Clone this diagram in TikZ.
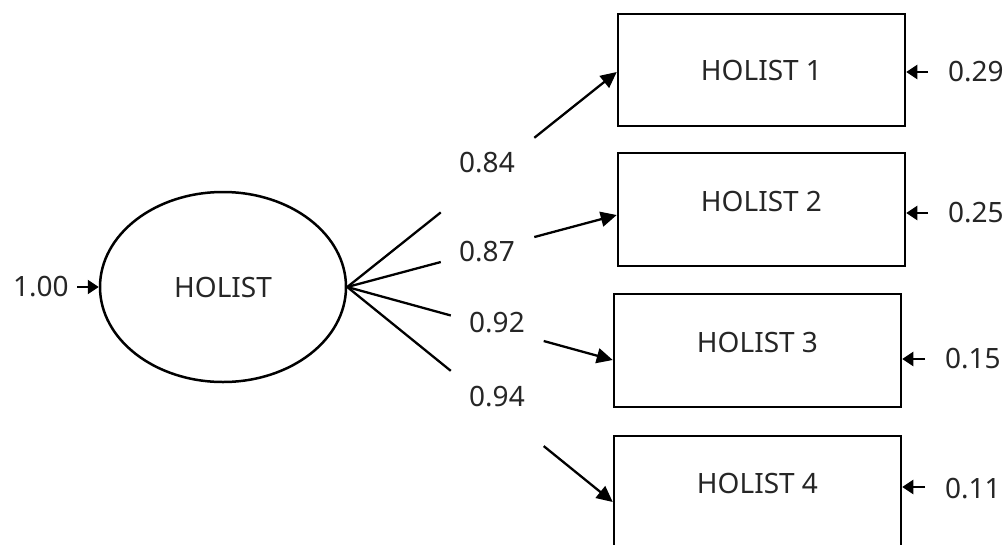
\documentclass[tikz,border=0pt]{standalone}
\usepackage{fontspec}
\setmainfont{Noto Sans}
\usetikzlibrary{arrows.meta,calc,shapes.geometric}
\begin{document}
\begin{tikzpicture}[x=1pt,y=-1pt,
  line width=2.3pt,
  every node/.style={font=\fontsize{28}{30}\selectfont, text=black!85},
  obs/.style={draw, rectangle, minimum width=287pt, minimum height=112pt, inner sep=0pt, line width=2.5pt},
  lab/.style={inner sep=0pt},
  load/.style={-{Triangle[length=16pt,width=15pt]}},
  resid/.style={-{Triangle[length=11pt,width=14pt]}}
]
\useasboundingbox (0,0) rectangle (1007,544);
\clip (0,0) rectangle (1007,544);
% latent
\node[draw, line width=2.5pt, ellipse, minimum width=246pt, minimum height=190pt, inner sep=0pt] (hol) at (223,287) {HOLIST};
% indicators
\node[obs] (b1) at (761.5,70) {HOLIST 1};
\node[obs, minimum height=113pt] (b2) at (761.5,209.5) {\raisebox{17pt}{HOLIST 2}};
\node[obs, minimum height=113pt] (b3) at (757.5,350.5) {\raisebox{17pt}{HOLIST 3}};
\node[obs, minimum height=113pt] (b4) at (757.5,492.5) {\raisebox{18pt}{HOLIST 4}};
% entry points on boxes
\coordinate (i1) at (b1.west |- 0,72);
\coordinate (i2) at (b2.west |- 0,215);
\coordinate (i3) at (b3.west |- 0,360);
\coordinate (i4) at (b4.west |- 0,502);
% loading labels
\node[lab] (l1) at (487,163) {0.84};
\node[lab] (l2) at (487,252) {0.87};
\node[lab] (l3) at (497,323) {0.92};
\node[lab] (l4) at (497,397) {0.94};
% loadings
\draw (hol.east) -- ($(hol.east)!0.347!(i1)$);
\draw[load] ($(hol.east)!0.694!(i1)$) -- (i1);
\draw (hol.east) -- ($(hol.east)!0.347!(i2)$);
\draw[load] ($(hol.east)!0.694!(i2)$) -- (i2);
\draw (hol.east) -- ($(hol.east)!0.39!(i3)$);
\draw[load] ($(hol.east)!0.74!(i3)$) -- (i3);
\draw (hol.east) -- ($(hol.east)!0.39!(i4)$);
\draw[load] ($(hol.east)!0.74!(i4)$) -- (i4);
% latent variance
\node[lab, anchor=west] (v0) at (12,287) {1.00};
\coordinate (s0) at (77,287);
\draw[resid] (s0) -- (hol.west);
% residuals
\node[lab, anchor=west] (e1) at (947,72) {0.29};
\node[lab, anchor=west] (e2) at (947,213) {0.25};
\node[lab, anchor=west] (e3) at (944,359) {0.15};
\node[lab, anchor=west] (e4) at (944,489) {0.11};
\coordinate (r1) at (928,72);
\coordinate (r2) at (928,213);
\coordinate (r3) at (925,359);
\coordinate (r4) at (925,487);
\draw[resid] (r1) -- (r1 -| b1.east);
\draw[resid] (r2) -- (r2 -| b2.east);
\draw[resid] (r3) -- (r3 -| b3.east);
\draw[resid] (r4) -- (r4 -| b4.east);
\end{tikzpicture}
\end{document}
